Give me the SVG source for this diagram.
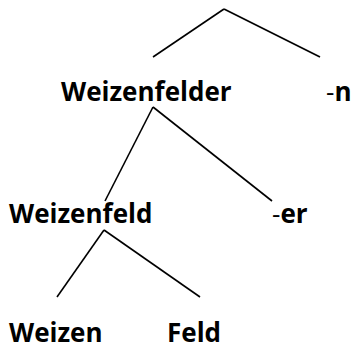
<svg xmlns="http://www.w3.org/2000/svg" width="353" height="350" viewBox="0 0 353 350">
<style>
.t{font-family:"Open Sans","Liberation Sans",sans-serif;font-weight:bold;font-size:26px;fill:#000}
.h{font-weight:normal}
.c line{stroke:#000;stroke-width:1.6;stroke-linecap:butt}
</style>
<rect width="353" height="350" fill="#fff"/>
<g class="c" id="connectors">
<line x1="224" y1="9" x2="153" y2="57"/>
<line x1="224" y1="9" x2="320" y2="57"/>
<line x1="153" y1="107" x2="105" y2="201"/>
<line x1="153" y1="107" x2="272" y2="201"/>
<line x1="104" y1="230" x2="57" y2="297"/>
<line x1="104" y1="230" x2="200" y2="297"/>
</g>
<g id="n-weizenfelder"><text class="t" x="61" y="101">Weizenfelder</text></g>
<g id="n-n"><text class="t" x="326" y="101"><tspan class="h">-</tspan>n</text></g>
<g id="n-weizenfeld"><text class="t" x="9" y="223">Weizenfeld</text></g>
<g id="n-er"><text class="t" x="272" y="223"><tspan class="h">-</tspan>er</text></g>
<g id="n-weizen"><text class="t" x="9" y="342">Weizen</text></g>
<g id="n-feld"><text class="t" x="167" y="342">Feld</text></g>
</svg>
